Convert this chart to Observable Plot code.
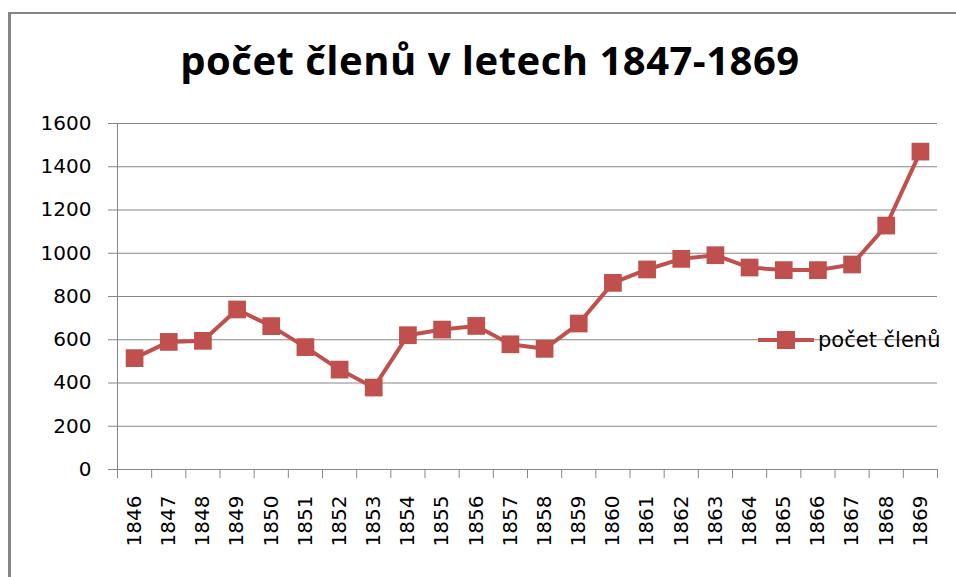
<!DOCTYPE html>
<html>
<head>
<meta charset="utf-8">
<script src="https://cdn.jsdelivr.net/npm/d3@7"></script>
<script src="https://cdn.jsdelivr.net/npm/@observablehq/plot@0.6"></script>
<style>
  html, body { margin: 0; padding: 0; background: #fff; }
  #wrap { position: relative; width: 956px; height: 577px; overflow: hidden; }
  #frame { position: absolute; left: 8px; top: 12px; width: 960px; height: 600px;
           border-left: 3px solid #868686; border-top: 2.5px solid #868686; box-sizing: border-box; }
  #title { position: absolute; left: 0; top: 0; width: 980px; height: 100px; text-align: center;
           font-family: "Open Sans", Lato, sans-serif; font-weight: bold; font-size: 40px; letter-spacing: 0.5px;
           line-height: 100px; color: #000; padding-top: 10px; box-sizing: border-box; }
  #chart { position: absolute; left: 0; top: 100px; }
  #legend { position: absolute; left: 758px; top: 328px; height: 24px; display: flex; align-items: center;
            font-family: "DejaVu Sans", sans-serif; font-size: 21px; color: #000; }
  #legend svg { display: block; margin-right: 4px; }
</style>
</head>
<body>
<div id="wrap">
  <div id="frame"></div>
  <div id="title">počet členů v letech 1847-1869</div>
  <div id="chart"></div>
  <div id="legend"><svg width="56" height="24"><line x1="0" x2="56" y1="12" y2="12" stroke="#C0504D" stroke-width="4"/><rect x="19" y="3" width="18" height="18" fill="#C0504D"/></svg><span>počet členů</span></div>
</div>
<script>
const years = [1846,1847,1848,1849,1850,1851,1852,1853,1854,1855,1856,1857,1858,1859,1860,1861,1862,1863,1864,1865,1866,1867,1868,1869];
const members = [515,590,595,740,663,566,462,379,621,647,664,579,558,675,863,925,974,991,934,922,922,948,1128,1470];
const yTicks = [0,200,400,600,800,1000,1200,1400,1600];
const seriesName = "počet členů";

const data = years.map((y, i) => ({year: y, value: members[i]}));
const bounds = [years[0] - 0.5, ...years.map(y => y + 0.5)];

const chart = Plot.plot({
  width: 956,
  height: 477,
  marginTop: 23,
  marginBottom: 108,
  marginLeft: 117,
  marginRight: 19,
  style: {fontFamily: "DejaVu Sans, sans-serif", fontSize: "20px", color: "#000", background: "transparent"},
  x: {
    type: "linear",
    domain: [bounds[0], bounds[bounds.length - 1]],
    ticks: years,
    tickFormat: d => String(d),
    tickSize: 0,
    tickRotate: -90,
    tickPadding: 26,
    label: null
  },
  y: {
    domain: [0, 1600],
    ticks: yTicks,
    tickFormat: d => String(d),
    tickSize: 9,
    tickPadding: 17,
    label: null
  },
  marks: [
    Plot.ruleY(yTicks, {stroke: "#868686", strokeWidth: 1}),
    Plot.ruleX([bounds[0]], {y1: 0, y2: 1600, stroke: "#868686", strokeWidth: 1}),
    Plot.ruleX(bounds, {y1: 0, y2: -42, stroke: "#868686", strokeWidth: 1}),
    Plot.line(data, {x: "year", y: "value", stroke: "#C0504D", strokeWidth: 4}),
    Plot.dot(data, {x: "year", y: "value", symbol: "square", r: 10, fill: "#C0504D", stroke: "none"})
  ]
});
chart.querySelectorAll('[aria-label="y-axis tick"] path, [aria-label="y-axis"] .tick line').forEach(p => p.setAttribute("stroke", "#868686"));
document.getElementById("chart").appendChild(chart);
</script>
</body>
</html>
